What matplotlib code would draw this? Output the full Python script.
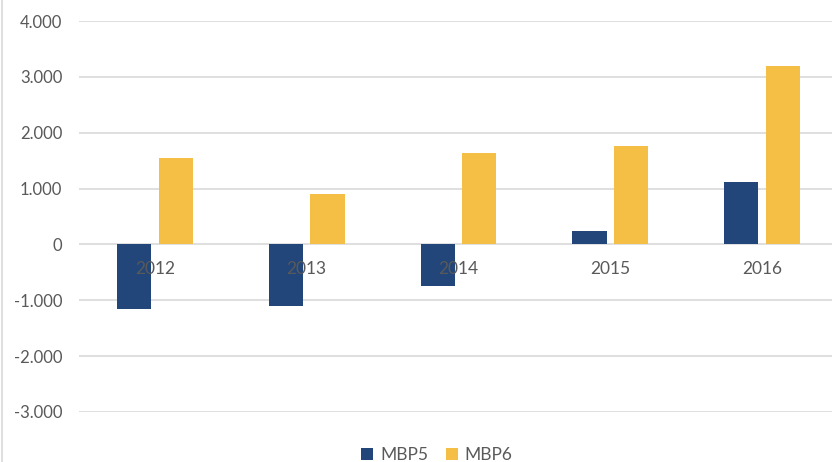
"""MBP5 / MBP6 yearly bar chart."""

import matplotlib
matplotlib.use("Agg")
import matplotlib.pyplot as plt
import numpy as np
from matplotlib.lines import Line2D
from matplotlib.ticker import FuncFormatter

years = ["2012", "2013", "2014", "2015", "2016"]
mbp5 = [-1160, -1110, -750, 235, 1110]
mbp6 = [1555, 910, 1645, 1770, 3200]
y_ticks = [-3000, -2000, -1000, 0, 1000, 2000, 3000, 4000]

plt.rcParams["font.family"] = ["Lato", "DejaVu Sans"]

BLUE = "#22467A"
GOLD = "#F5BF45"
TEXT = "#595959"
GRID = "#D9D9D9"

fig = plt.figure(figsize=(8.32, 4.62), dpi=100)
ax = fig.add_axes([79 / 832, 1 - 412 / 462, 759 / 832, 391 / 462])

x = np.arange(len(years))
w = 0.225
gap = 0.05
ax.bar(x - (w + gap) / 2, mbp5, width=w, color=BLUE, label="MBP5", zorder=2)
ax.bar(x + (w + gap) / 2, mbp6, width=w, color=GOLD, label="MBP6", zorder=2)

ax.set_xlim(-0.5, len(years) - 0.5)
ax.set_ylim(y_ticks[0], y_ticks[-1])
ax.set_yticks(y_ticks)
ax.yaxis.set_major_formatter(
    FuncFormatter(lambda v, _: f"{int(v):,}".replace(",", "."))
)
ax.set_xticks(x)
ax.set_xticklabels(years)

for s in ax.spines.values():
    s.set_visible(False)
ax.spines["bottom"].set_position(("data", 0))

ax.tick_params(axis="both", length=0, colors=TEXT, labelsize=12)
ax.tick_params(axis="x", pad=12, labelsize=12.5)
ax.tick_params(axis="y", pad=12)
ax.yaxis.grid(True, color=GRID, linewidth=1.2)
ax.yaxis.set_zorder(0.5)
ax.xaxis.set_zorder(3)

fig.legend(loc="center", bbox_to_anchor=(437 / 832, 1 - 455 / 462),
           ncol=2, frameon=False, fontsize=12.5, labelcolor=TEXT,
           handlelength=0.7, handleheight=0.7, handletextpad=0.4,
           columnspacing=1.0)

fig.add_artist(Line2D([0.003, 0.003], [0, 1], color=GRID, linewidth=1.2))

fig.savefig("out.png", dpi=100)
